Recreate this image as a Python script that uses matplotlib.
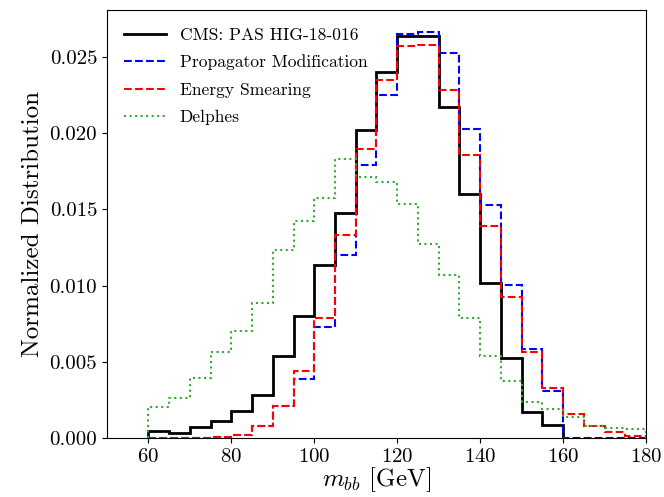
import numpy as np
import matplotlib
matplotlib.use("Agg")
import matplotlib.pyplot as plt

plt.rcParams['font.family'] = 'serif'
plt.rcParams['font.serif'] = ['cmr10', 'DejaVu Serif']
plt.rcParams['mathtext.fontset'] = 'cm'
plt.rcParams['axes.formatter.use_mathtext'] = True

# bin edges, 5 GeV wide
edges_cms = np.arange(60, 165, 5)
edges_all = np.arange(60, 185, 5)

cms = [0.00044, 0.00033, 0.0007, 0.00113, 0.00174, 0.00281, 0.00538, 0.0080,
       0.01135, 0.01475, 0.02023, 0.0240, 0.0264, 0.0264, 0.02174, 0.0160,
       0.0102, 0.00525, 0.0017, 0.00087]
propagator = [0.0, 0.0, 0.0, 0.00003, 0.00022, 0.0008, 0.00206, 0.00387,
              0.0073, 0.01204, 0.01793, 0.02254, 0.0265, 0.02668, 0.02527, 0.02026,
              0.01531, 0.01002, 0.00582, 0.00309, 0.0, 0.0, 0.0, 0.0]
smearing = [0.0, 0.0, 0.0, 0.00003, 0.00022, 0.00081, 0.00212, 0.00437,
            0.00784, 0.01335, 0.0190, 0.02352, 0.0257, 0.0258, 0.02287, 0.01856,
            0.01394, 0.00926, 0.00566, 0.00327, 0.00159, 0.00076, 0.00037, 0.00015]
delphes = [0.00203, 0.00261, 0.00392, 0.00562, 0.00701, 0.00886, 0.01235, 0.01427,
           0.01575, 0.01834, 0.01714, 0.01677, 0.01535, 0.01274, 0.01067, 0.0079,
           0.00538, 0.00375, 0.00233, 0.00189, 0.00137, 0.00076, 0.00063, 0.00059]

fig = plt.figure(figsize=(6.64, 4.97), dpi=100)
ax = fig.add_axes([0.161, 0.119, 0.812, 0.861])

ax.stairs(cms, edges_cms, color='black', lw=2, label='CMS: PAS HIG-18-016')
ax.stairs(propagator, edges_all, color='blue', lw=1.5, ls='--', label='Propagator Modification')
ax.stairs(smearing, edges_all, color='red', lw=1.5, ls='--', label='Energy Smearing')
ax.stairs(delphes, edges_all, color='#33aa33', lw=1.5, ls=':', label='Delphes')

ax.set_xlim(50, 180)
ax.set_ylim(0, 0.0281)
ax.set_xticks(np.arange(60, 181, 20))
ax.set_yticks(np.arange(0, 0.0251, 0.005))
ax.set_yticklabels(['%.3f' % v for v in np.arange(0, 0.0251, 0.005)])
ax.tick_params(labelsize=15)
ax.set_xlabel(r'$m_{bb}$ [GeV]', fontsize=18, labelpad=0)
ax.set_ylabel('Normalized Distribution', fontsize=18, labelpad=4)
ax.legend(loc='upper left', frameon=False, fontsize=12.6, handlelength=2.4,
          handletextpad=0.75, labelspacing=0.68, borderaxespad=0.6)

fig.savefig('out.png', dpi=100)
